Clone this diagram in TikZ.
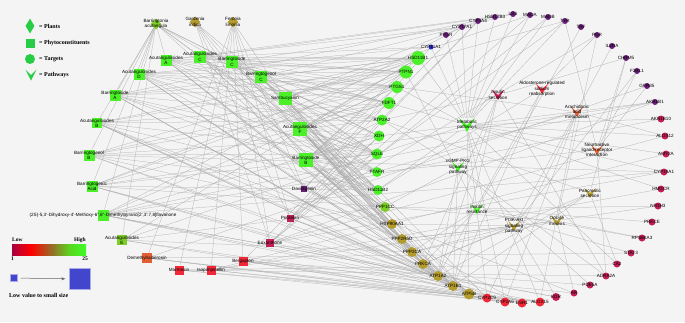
\documentclass[tikz,border=0pt]{standalone}
\usepackage{fontspec}
\setmainfont{Liberation Serif}
\setsansfont{Liberation Sans}
\usetikzlibrary{shapes.geometric,arrows.meta,backgrounds}
\definecolor{fondo}{RGB}{244,244,244}
\definecolor{gris}{RGB}{172,172,172}
\definecolor{verde}{RGB}{75,240,40}
\definecolor{verdeclaro}{RGB}{125,205,40}
\definecolor{oliva}{RGB}{180,155,45}
\definecolor{rojo}{RGB}{240,40,55}
\definecolor{naranja}{RGB}{225,95,50}
\definecolor{carmin}{RGB}{195,30,85}
\definecolor{morado}{RGB}{105,30,120}
\definecolor{azul}{RGB}{40,40,200}
\definecolor{leyenda}{RGB}{40,205,70}
\definecolor{azulley}{RGB}{65,70,205}
\definecolor{esc0}{RGB}{20,0,90}
\definecolor{esc1}{RGB}{70,0,130}
\definecolor{esc2}{RGB}{190,0,50}
\definecolor{esc3}{RGB}{255,0,0}
\definecolor{esc4}{RGB}{150,110,40}
\definecolor{esc5}{RGB}{90,215,30}
\definecolor{esc6}{RGB}{60,255,40}
\pgfdeclarehorizontalshading{escala}{100bp}{color(0bp)=(esc0); color(14bp)=(esc1);
  color(28bp)=(esc2); color(38bp)=(esc3); color(52bp)=(esc4); color(64bp)=(esc5);
  color(76bp)=(esc6); color(100bp)=(esc6)}

\begin{document}
\begin{tikzpicture}[x=1pt, y=-1pt,
  etq/.style={font=\sffamily\fontsize{4.6}{5.3}\selectfont, align=center, inner sep=0pt},
  ley/.style={font=\bfseries\fontsize{6}{7}\selectfont, anchor=west, inner sep=0pt},
  planta/.style={diamond, aspect=1, fill=#1, inner sep=0pt, minimum size=11pt},
  comp/.style={rectangle, fill=#1, inner sep=0pt},
  diana/.style={circle, fill=#1, inner sep=0pt},
  ruta/.style={rectangle, inner sep=0pt, minimum width=12pt, minimum height=10pt,
    path picture={\fill[#1] (path picture bounding box.north west)
      -- (path picture bounding box.center) -- (path picture bounding box.north east)
      -- (path picture bounding box.south) -- cycle;}},
  arista/.style={draw=gris, line width=0.25pt},
]
\useasboundingbox (0,0) rectangle (685,322);

% legend
\node[planta=leyenda, minimum width=9pt, minimum height=15pt] (lplanta) at (30,26) {};
\node[ley] at (39,26) {= Plants};
\node[comp=leyenda, minimum size=9pt] (lcomp) at (30,43) {};
\node[ley] at (39,43) {= Phytoconstituents};
\node[diana=leyenda, minimum size=10pt] (ldiana) at (30,59) {};
\node[ley] at (39,59) {= Targets};
\node[ruta=leyenda, minimum width=11pt, minimum height=11pt] (lruta) at (31,75) {};
\node[ley] at (39,75) {= Pathways};

\shade[shading=escala] (12,244) rectangle (86,255);
\node[ley, font=\bfseries\fontsize{5.5}{6}\selectfont] at (12,240) {Low};
\node[ley, anchor=east, font=\bfseries\fontsize{5.5}{6}\selectfont] at (86,240) {High};
\node[ley, font=\bfseries\fontsize{5.5}{6}\selectfont] at (11,259) {1};
\node[ley, anchor=east, font=\bfseries\fontsize{5.5}{6}\selectfont] at (88,259) {25};
\node[comp=azulley, draw=azulley!45!white, minimum size=7pt] (chico) at (14,278) {};
\node[comp=azulley, draw=azulley!45!white, minimum size=21pt] (grande) at (80,279) {};
\draw[black!60, line width=0.5pt, -{Stealth[length=4pt, width=3pt]}, shorten >=4pt,
  shorten <=3pt] (chico) -- (grande);
\node[ley] at (9,295) {Low value to small size};

% plants
\node[planta=verdeclaro, label={[etq]center:Barringtonia\\acutangula}] (ba) at (156,24) {};
\node[planta=oliva, label={[etq]center:Gardenia\\indica}] (gi) at (195,22) {};
\node[planta=oliva, label={[etq]center:Feronia\\limonia}] (fl) at (233,22) {};

% phytoconstituents
\foreach \n/\x/\y/\s/\c/\t in {
  acA/166/60/11/verde/{Acutangulosides\\A}, acC/200/57/12/verde/{Acutangulosides\\C},
  btC/232/62/12/verde/{Barringtoside\\C}, acD/139/74/11/verde/{Acutangulosides\\D},
  bgC/261/77/12/verde/{Barringtogenol\\C}, btA/115/95/11/verde/{Barringtoside\\A},
  sam/285/98/13/verde/{Sambucyanin}, acB/97/123/10/verde/{Acutangulosides\\B},
  acF/300/129/14/verde/{Acutangulosides\\F}, bgB/89/155/11/verde/{Barringtogenol\\B},
  btB/306/160/14/verde/{Barringtoside\\B}, bga/92/186/11/verde/{Barringtogenic\\Acid},
  acE/122/240/10/verdeclaro/{Acutangulosides\\E}, dav/304/189/6/morado/{Davidigenin},
  pso/290/218/7/carmin/{Psoralen}, eux/270/243/8/carmin/{Euxanthone},
  ber/243/261/9/rojo/{Bergapten}, dms/147/258/10/naranja/{Demethylsuberosin},
  mar/179/270/9/rojo/{Marmesin}, iso/211/270/9/rojo/{Isopimpinellin}}
  \node[comp=\c, minimum size=\s pt, label={[etq]center:\t}] (\n) at (\x,\y) {};
\node[comp=verde, minimum size=11pt] (flv) at (103,215) {};
\node[etq] at (flv) {(2S)-5,3'-Dihydroxy-4'-Methoxy-6'',6''-Dimethylpyrano[2',3':7,8]flavanone};

% targets
\foreach \n/\x/\y/\t/\c/\s in {
  hsd1/418/58/HSD11B1/verde/14, ptpn/406/72/PTPN1/verde/13, ptgs/397/87/PTGS1/verde/12,
  fdft/389/103/FDFT1/verde/12, atpb/382/120/ATP2A2/verde/11, xdh/379/136/XDH/verde/11,
  sqle/377/154/SQLE/verde/11, ptaf/377/172/PTAFR/verde/10, hsdb/378/190/HSD11B2/verde/10,
  pppc/385/207/PPP1CC/verdeclaro/10, hsp/392/224/HSP90AA1/oliva/10,
  pr5/402/239/PPP2R5D/oliva/10, pca/412/252/PPP2CA/oliva/10, prk/423/264/PRKCA/oliva/10,
  aaa/438/276/ATP1A2/oliva/10, aab/453/286/ATP1B1/oliva/10, atp5/469/294/ATP5B/oliva/11,
  c2c9/487/298/CYP2C9/rojo/9, c2a6/505/302/CYP2A6/rojo/9, esr/522/303/ESR1/rojo/9,
  alo15/540/302/ALOX15/rojo/9, kdr/556/297/KDR/carmin/8, ar/574/293/AR/carmin/7,
  pde/590/285/PDE5A/carmin/7, adra/606/276/ADRA2A/carmin/7, ca2/617/264/CA2/carmin/7,
  stat/631/253/STAT3/carmin/7, rps/642/238/RPS6KA3/carmin/7, prke/652/222/PRKCE/carmin/7,
  nr1/658/206/NR1H3/carmin/7, hmg/661/189/HMGCR/carmin/7, c19/664/172/CYP19A1/carmin/7,
  amy/666/154/AMY2A/carmin/7, alo12/665/136/ALOX12/carmin/7, akr10/661/119/AKR1B10/carmin/7,
  akr1/655/102/AKR1B1/morado/6, gpr/647/86/GPR35/morado/6, f2r/637/71/F2RL1/morado/6,
  chrm/626/58/CHRM5/morado/6, il2/612/46/IL2RA/morado/6, pgr/597/35/PGR/morado/6,
  tnf/581/27/TNF/morado/6, tyr/565/21/TYR/morado/6, maob/548/17/MAOB/morado/6,
  maoa/530/15/MAOA/morado/6, lss/513/14/LSS/morado/6, hsd17/495/17/HSD17B3/morado/6,
  c3a4/478/21/CYP3A4/morado/6, c17/462/27/CYP17A1/morado/6, ptgr/446/35/PTGR/morado/6,
  c11/431/47/CYP11A1/azul/5}
  \node[diana=\c, minimum size=\s pt, label={[etq]center:\t}] (\n) at (\x,\y) {};

% pathways
\node[ruta=verde, minimum width=16pt, minimum height=14pt,
  label={[etq]center:Metabolic\\pathways}] (met) at (467,125) {};
\node[ruta=carmin, label={[etq]center:Insulin\\secretion}] (ins) at (498,95) {};
\node[ruta=rojo, label={[etq]center:Aldosterone-regulated\\sodium\\reabsorption}] (ald) at (542,89) {};
\node[ruta=naranja, label={[etq]center:Arachidonic\\acid\\metabolism}] (ara) at (577,112) {};
\node[ruta=naranja, label={[etq]center:Neuroactive\\ligand-receptor\\interaction}] (neu) at (597,150) {};
\node[ruta=verde, label={[etq]center:cGMP-PKG\\signaling\\pathway}] (cgmp) at (458,167) {};
\node[ruta=verde, label={[etq]center:Insulin\\resistance}] (insr) at (477,209) {};
\node[ruta=oliva, label={[etq]center:Pancreatic\\secretion}] (pan) at (590,193) {};
\node[ruta=oliva, label={[etq]center:PI3K-Akt\\signaling\\pathway}] (pi3k) at (514,226) {};
\node[ruta=oliva, label={[etq]center:Oocyte\\meiosis}] (oocy) at (557,221) {};

\begin{scope}[on background layer]
\fill[fondo] (0,0) rectangle (685,322);
\foreach \a/\lista in {
  ba/{acA,acC,btC,acD,bgC,btA,sam,acB,acF,bgB,btB,bga,flv,acE},
  gi/{sam,dav,eux,acF,btB,pso}, fl/{pso,ber,mar,iso,dms,eux,dav,sam},
  acA/{hsd1,ptpn,ptgs,fdft,atpb,sqle,hsdb,aab,aaa,atp5,c17,lss},
  acC/{hsd1,ptpn,ptgs,fdft,sqle,ptaf,hsdb,aab,pca,hsd17,c11},
  btC/{hsd1,ptpn,fdft,atpb,xdh,sqle,hsdb,hsp,aaa,c17},
  acD/{hsd1,ptpn,ptgs,fdft,atpb,sqle,ptaf,pppc,aab,aaa,atp5,c11},
  bgC/{hsd1,ptgs,fdft,xdh,sqle,hsdb,pppc,prk,aab,lss},
  btA/{hsd1,ptpn,ptgs,atpb,sqle,ptaf,hsdb,aab,aaa,atp5,hsd17},
  sam/{ptgs,xdh,ptaf,hsp,prk,c3a4,tyr,maoa,c2c9,atp5},
  acB/{hsd1,ptpn,fdft,atpb,sqle,hsdb,pr5,pca,aab,aaa,atp5},
  acF/{hsd1,ptpn,ptgs,fdft,atpb,xdh,sqle,ptaf,hsdb,pppc,hsp,pr5,pca,prk,aab,aaa,atp5},
  bgB/{hsd1,ptgs,fdft,xdh,sqle,hsdb,hsp,aab,aaa,c19},
  btB/{hsd1,ptpn,ptgs,fdft,atpb,xdh,sqle,ptaf,hsdb,pppc,hsp,pr5,pca,prk,aab,aaa,atp5},
  bga/{hsd1,ptpn,fdft,sqle,hsdb,pppc,aab,aaa,atp5,akr1},
  flv/{ptgs,xdh,ptaf,c17,c19,akr1,alo15,esr,kdr,aaa},
  acE/{hsd1,sqle,aab,atp5,pppc,pca}, dav/{c11,c17,akr10,ar,esr},
  pso/{c2a6,c2c9,c3a4,esr,pgr,tyr,xdh}, eux/{maoa,maob,c19,alo12,kdr,akr1,xdh},
  ber/{c2a6,c2c9,c3a4,alo15,ar,pde}, dms/{c2c9,alo15,esr,gpr,stat},
  mar/{c2a6,adra,ca2,alo15}, iso/{c2a6,c2c9,amy,hmg,nr1},
  met/{hsd1,hsdb,fdft,sqle,xdh,ptgs,atp5,c11,c17,c3a4,hsd17,lss,maoa,maob,tyr,alo12,
    alo15,c2c9,c2a6,c19,akr1,akr10,amy,hmg,ca2,ptgr},
  ins/{aaa,aab,prk,chrm,atpb,adra}, ald/{hsdb,aaa,aab,pgr},
  ara/{ptgs,alo12,alo15,c2c9,ptaf,c2a6}, neu/{ptaf,adra,f2r,chrm,gpr,tyr},
  cgmp/{atpb,aaa,aab,pppc,pde,adra}, insr/{ptpn,prk,pca,pppc,nr1,stat,rps,prke,tnf},
  pan/{atpb,aaa,aab,prk,ca2,chrm}, pi3k/{hsp,pca,pr5,prk,kdr,il2,f2r},
  oocy/{pgr,pca,pr5,pppc,rps,ar}}
  \foreach \b in \lista \draw[arista] (\a) -- (\b);
\end{scope}
\end{tikzpicture}
\end{document}
